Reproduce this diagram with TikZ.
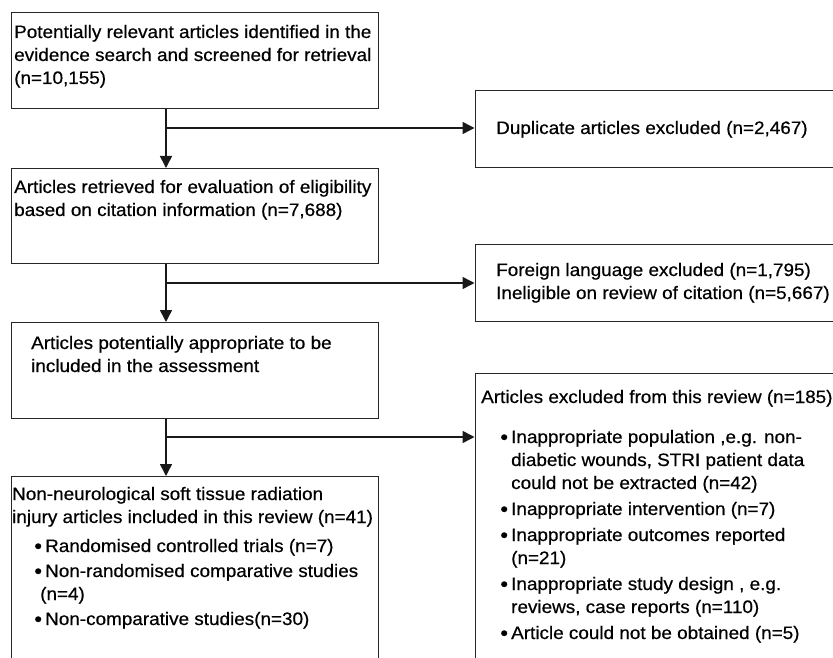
\documentclass[tikz,border=0pt]{standalone}
\usepackage{fontspec}
\setmainfont[FakeStretch=1.05,FakeBold=0.5]{Liberation Sans}
\usetikzlibrary{arrows.meta}
\newcommand\mybul[1]{\hspace*{#1}\makebox[10pt]{\raisebox{-1.2pt}{\fontsize{21}{23}\selectfont •}}\hspace*{2pt}}
\begin{document}
\begin{tikzpicture}[x=1pt,y=-1pt,
  boxst/.style={draw=black!85, line width=1.2pt, rectangle, inner sep=0pt, anchor=north west},
  txt/.style={anchor=base west, inner sep=0pt, font=\fontsize{18}{23}\selectfont},
  conn/.style={line width=1.5pt, draw=black!90},
  arr/.style={conn, -{Triangle[width=12pt,length=12pt]}}]
\useasboundingbox (0,0) rectangle (833,658);
\clip (0,0) rectangle (833,658);
% left column boxes
\node[boxst, minimum width=367pt, minimum height=96pt] (b1) at (11,12) {};
\node[boxst, minimum width=367pt, minimum height=95pt] (b2) at (11,168) {};
\node[boxst, minimum width=367pt, minimum height=96pt] (b3) at (11,322) {};
\node[boxst, minimum width=367pt, minimum height=220pt] (b4) at (11,476) {};
% right column boxes
\node[boxst, minimum width=380pt, minimum height=77pt] (r1) at (474.5,90) {};
\node[boxst, minimum width=380pt, minimum height=77pt] (r2) at (474.5,244) {};
\node[boxst, minimum width=380pt, minimum height=320pt] (r3) at (474.5,373) {};
% texts
\node[txt] (t1) at (14,38) {\begin{tabular}[t]{@{}l@{}}Potentially relevant articles identified in the\\ evidence search and screened for retrieval\\ (n=10,155)\end{tabular}};
\node[txt] (t2) at (14,193) {\begin{tabular}[t]{@{}l@{}}Articles retrieved for evaluation of eligibility\\ based on citation information (n=7,688)\end{tabular}};
\node[txt] (t3) at (31,349) {\begin{tabular}[t]{@{}l@{}}Articles potentially appropriate to be\\ included in the assessment\end{tabular}};
\node[txt] (t4) at (12,500) {\begin{tabular}[t]{@{}l@{}l@{}}
\multicolumn{2}{@{}l@{}}{Non-neurological soft tissue radiation}\\
\multicolumn{2}{@{}l@{}}{injury articles included in this review (n=41)}\\[6pt]
\mybul{21pt} & Randomised controlled trials (n=7)\\[2pt]
\mybul{21pt} & Non-randomised comparative studies\\
\multicolumn{2}{@{}l@{}}{\hspace*{28pt}(n=4)}\\[2pt]
\mybul{21pt} & Non-comparative studies(n=30)
\end{tabular}};
\node[txt] (u1) at (496,134) {Duplicate articles excluded (n=2,467)};
\node[txt] (u2) at (496,276) {\begin{tabular}[t]{@{}l@{}}Foreign language excluded (n=1,795)\\ Ineligible on review of citation (n=5,667)\end{tabular}};
\node[txt] (u3) at (481,403) {\begin{tabular}[t]{@{}l@{}l@{}}
\multicolumn{2}{@{}l@{}}{Articles excluded from this review (n=185)}\\[17pt]
\mybul{18pt} & Inappropriate population ,e.g. non-\\
 & diabetic wounds, STRI patient data\\
 & could not be extracted (n=42)\\[3pt]
\mybul{18pt} & Inappropriate intervention (n=7)\\[3pt]
\mybul{18pt} & Inappropriate outcomes reported\\
 & (n=21)\\[3pt]
\mybul{18pt} & Inappropriate study design , e.g.\\
 & reviews, case reports (n=110)\\[3pt]
\mybul{18pt} & Article could not be obtained (n=5)
\end{tabular}};
% connectors
\coordinate (j1) at (166,128);
\coordinate (j2) at (166,283);
\coordinate (j3) at (166,437);
\draw[conn] (b1.south -| j1) -- (j1);
\draw[arr] (j1) -- (b2.north -| j1);
\draw[arr] (j1) -- (j1 -| r1.west);
\draw[conn] (b2.south -| j2) -- (j2);
\draw[arr] (j2) -- (b3.north -| j2);
\draw[arr] (j2) -- (j2 -| r2.west);
\draw[conn] (b3.south -| j3) -- (j3);
\draw[arr] (j3) -- (b4.north -| j3);
\draw[arr] (j3) -- (j3 -| r3.west);
\end{tikzpicture}
\end{document}
